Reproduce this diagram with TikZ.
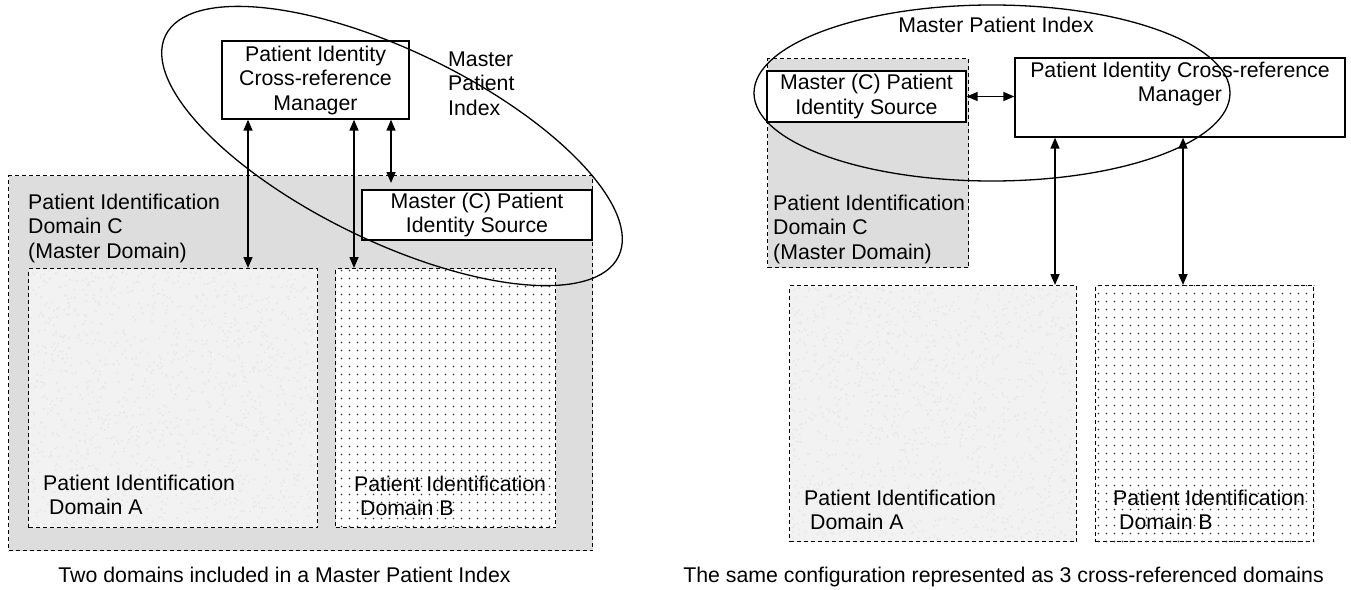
\documentclass[tikz,border=0pt]{standalone}
\usepackage{fontspec}
\setmainfont{Liberation Sans}
\usetikzlibrary{arrows.meta,patterns.meta}

\definecolor{domgray}{RGB}{221,221,221}
\definecolor{noisegray}{RGB}{242,242,242}

\tikzdeclarepattern{
  name=pidots,
  type=uncolored,
  bounding box={(0,0) and (7.5pt,7.5pt)},
  tile size={(7.5pt,7.5pt)},
  code={\fill (3.75pt,3.75pt) circle (0.85pt);}
}

\begin{document}
\begin{tikzpicture}[x=1pt,y=1pt,font=\fontsize{21.3}{24.5}\selectfont,
    box/.style={draw,line width=1.3pt,fill=white,inner sep=0pt,align=center},
    dom/.style={draw,dash pattern=on 4pt off 3pt,line width=1.3pt,inner sep=0pt,anchor=north west},
    lbl/.style={inner sep=0pt,align=left,anchor=north west},
    link/.style={line width=1.5pt,{Triangle[length=11pt,width=9pt]}-{Triangle[length=11pt,width=9pt]}},
    mpi/.style={line width=1.3pt}]
  \useasboundingbox (0,0) rectangle (1351,-589);
  \pgfmathsetseed{42}
  % two domains included in a Master Patient Index
  \node[dom,fill=domgray,minimum width=584pt,minimum height=375pt] (domCl) at (8,-175) {};
  \node[dom,fill=noisegray,minimum width=289pt,minimum height=259pt] (domAl) at (28,-268) {};
  \foreach \i in {1,...,1400}
    \fill[black!9] ({30+rnd*285},{-525+rnd*255}) circle (1.1pt);
  \node[dom,fill=white,minimum width=220pt,minimum height=259pt] (domBl) at (335,-268) {};
  \fill[pattern=pidots,pattern color=black!80] (domBl.south west) rectangle (domBl.north east);
  \node[lbl] (labCl) at (28,-193.5) {Patient Identification\\Domain C\\(Master Domain)};
  \node[lbl] (labAl) at (43,-474.5) {Patient Identification\\\hspace*{6pt}Domain A};
  \node[lbl] (labBl) at (354,-475.5) {Patient Identification\\\hspace*{6pt}Domain B};
  \node[box,minimum width=230pt,minimum height=50pt] (srcl) at (477,-215) {Master (C) Patient\\Identity Source};
  \node[box,minimum width=187pt,minimum height=78pt] (pixl) at (315.5,-80) {Patient Identity\\Cross-reference\\Manager};
  \node[lbl] (mpil) at (448,-51.5) {Master\\Patient\\Index};
  \draw[mpi,rotate around={-26:(392,-146)}] (392,-146) ellipse [x radius=252pt,y radius=95pt];
  \coordinate (al) at (248,0);
  \coordinate (bl) at (354,0);
  \coordinate (cl) at (391,-183);
  \draw[link] (pixl.south -| al) -- (domAl.north -| al);
  \draw[link] (pixl.south -| bl) -- (domBl.north -| bl);
  \draw[link] (pixl.south -| cl) -- (cl);
  \node (capl) at (284.5,-575) {Two domains included in a Master Patient Index};
  % the same as 3 cross-referenced domains
  \node[dom,fill=domgray,minimum width=201pt,minimum height=209pt] (domCr) at (767,-58) {};
  \node[dom,fill=noisegray,minimum width=287pt,minimum height=256pt] (domAr) at (789,-285) {};
  \foreach \i in {1,...,1400}
    \fill[black!9] ({791+rnd*283},{-539+rnd*252}) circle (1.1pt);
  \node[dom,fill=white,minimum width=218pt,minimum height=256pt] (domBr) at (1095,-285) {};
  \fill[pattern=pidots,pattern color=black!80] (domBr.south west) rectangle (domBr.north east);
  \node[lbl] (labCr) at (773,-194.5) {Patient Identification\\Domain C\\(Master Domain)};
  \node[lbl] (labAr) at (804,-489.5) {Patient Identification\\\hspace*{6pt}Domain A};
  \node[lbl] (labBr) at (1113,-489.5) {Patient Identification\\\hspace*{6pt}Domain B};
  \node[box,minimum width=199pt,minimum height=51pt] (srcr) at (866.5,-96.5) {Master (C) Patient\\Identity Source};
  \node[box,minimum width=330pt,minimum height=79pt] (pixr) at (1180,-97.5) {Patient Identity Cross-reference\\Manager\\\strut};
  \node (mpir) at (996,-25) {Master Patient Index};
  \draw[mpi] (992,-93) ellipse [x radius=238pt,y radius=88pt];
  \coordinate (ar) at (1055,0);
  \coordinate (br) at (1183,0);
  \draw[link] (srcr.east) -- (srcr.east -| pixr.west);
  \draw[link] (pixr.south -| ar) -- (domAr.north -| ar);
  \draw[link] (pixr.south -| br) -- (domBr.north -| br);
  \node (capr) at (1003.5,-577) {The same configuration represented as 3 cross-referenced domains};
\end{tikzpicture}
\end{document}
